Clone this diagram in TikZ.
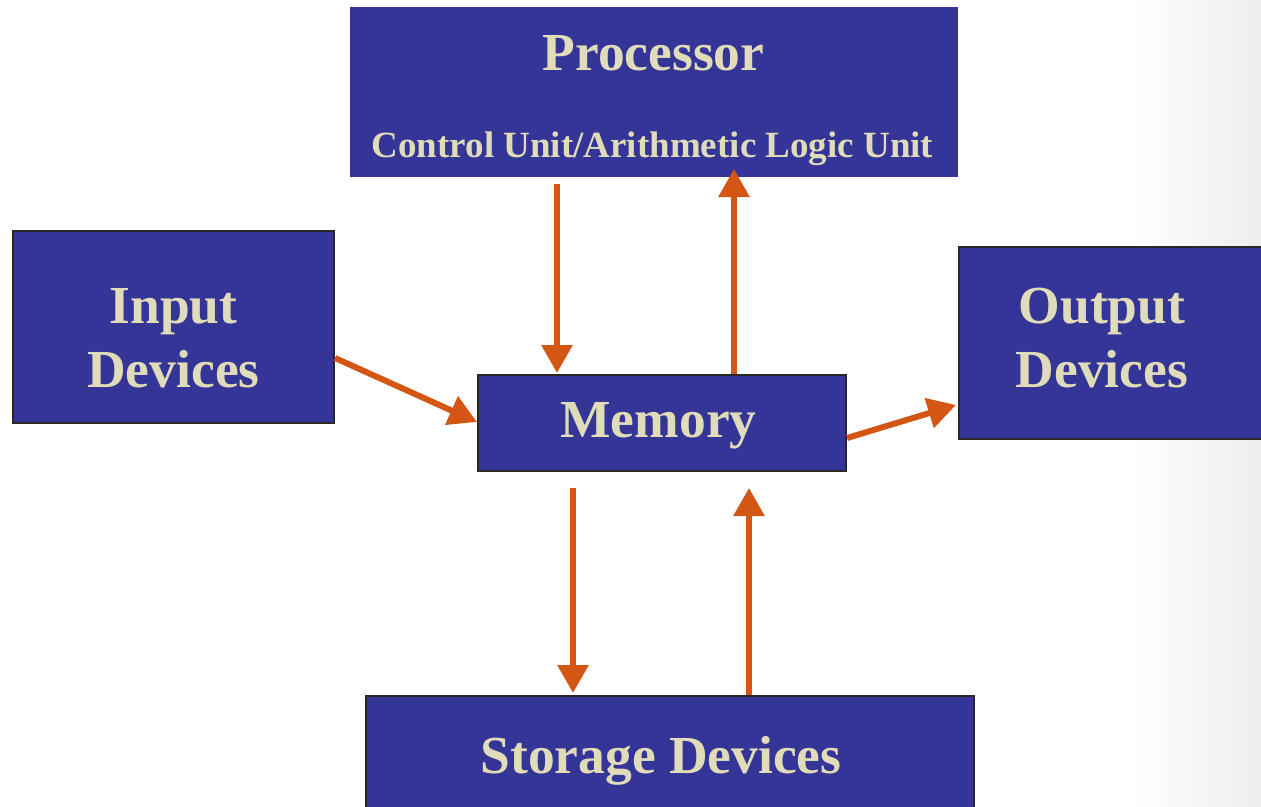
\documentclass[tikz,border=0pt]{standalone}
\usepackage{fontspec}
\setmainfont{Liberation Serif}
\usetikzlibrary{arrows.meta,calc}
\definecolor{unitblue}{RGB}{53,53,152}
\definecolor{unittext}{RGB}{224,220,186}
\definecolor{flow}{RGB}{211,86,20}
\definecolor{unitedge}{RGB}{42,40,32}
\tikzset{
  unit/.style={fill=unitblue,draw=unitedge,line width=2pt,inner sep=0pt},
  unitname/.style={text=unittext,font=\bfseries\fontsize{53.5}{64}\selectfont,
    align=center,inner sep=0pt,anchor=base},
  flowline/.style={draw=flow,line width=6pt,-{Triangle[width=30pt,length=28pt]}},
}

\begin{document}
\begin{tikzpicture}[x=1pt,y=-1pt]
\useasboundingbox (0,0) rectangle (1261,806);
\clip (0,0) rectangle (1261,806);
\shade[left color=white,right color=black!7] (1130,0) rectangle (1261,806);
\node[unit,draw=none,minimum width=608pt,minimum height=170pt] (proc) at (654,92) {};
\node[unit,minimum width=321pt,minimum height=192pt] (inp) at (173.5,327) {};
\node[unit,minimum width=368pt,minimum height=96pt] (mem) at (662,423) {};
\node[unit,minimum width=340pt,minimum height=192pt,anchor=west] (outp) at (958,343) {};
\node[unit,minimum width=608pt,minimum height=124pt,anchor=north] (stor) at (670,695) {};
\node[unitname] (proctitle) at (653.5,70) {Processor};
\node[unitname,font=\bfseries\fontsize{37}{40}\selectfont] (procsub) at (652.5,157) {Control Unit/Arithmetic Logic Unit};
\node[unitname] (inptxt) at (173.5,387) {Input\\Devices};
\node[unitname] (memtxt) at (658.5,437) {Memory};
\node[unitname] (outptxt) at (1102,387) {Output\\Devices};
\node[unitname] (stortxt) at (661,773) {Storage Devices};
\draw[flowline] ([xshift=-97pt,yshift=-6pt]proc.south) -- ([xshift=-105pt,yshift=1pt]mem.north);
\draw[flowline] ([xshift=72pt]mem.north) -- ([xshift=80pt,yshift=9pt]proc.south);
\draw[flowline] ([yshift=-31pt]inp.east) -- ([yshift=1pt]mem.west);
\draw[flowline] ([yshift=-15pt]mem.east) -- ([xshift=-2pt,yshift=-62pt]outp.west);
\draw[flowline] ([xshift=-89pt,yshift=-16pt]mem.south) -- ([xshift=-97pt,yshift=2pt]stor.north);
\draw[flowline] ([xshift=79pt]stor.north) -- ([xshift=87pt,yshift=-16pt]mem.south);
\end{tikzpicture}
\end{document}
